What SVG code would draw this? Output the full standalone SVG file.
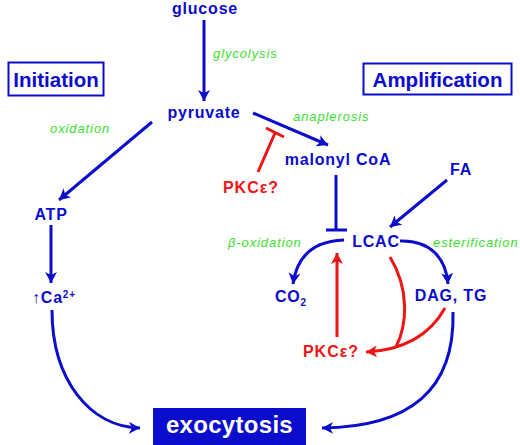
<svg xmlns="http://www.w3.org/2000/svg" width="520" height="445" viewBox="0 0 520 445">
<defs>
<style>
.n{font-family:"Liberation Sans",Arial,sans-serif;font-weight:bold;font-size:16px;letter-spacing:0.8px;fill:#0c0ccc}
.r{font-family:"Liberation Sans",Arial,sans-serif;font-weight:bold;font-size:16px;letter-spacing:1px;fill:#ee1515}
.g{font-family:"Liberation Sans",Arial,sans-serif;font-style:italic;font-size:13px;letter-spacing:0.9px;fill:#40dd30}
.h{font-family:"Liberation Sans",Arial,sans-serif;font-weight:bold;font-size:20.5px;fill:#0c0ccc}
.b{fill:none;stroke:#0c0ccc;stroke-width:3}
.rl{fill:none;stroke:#ee1515;stroke-width:3}
</style>
<marker id="ab" markerUnits="userSpaceOnUse" markerWidth="14" markerHeight="14" refX="11" refY="6" orient="auto"><path d="M0,0 L11,6 L0,12 L3,6 Z" fill="#0c0ccc"/></marker>
<marker id="ar" markerUnits="userSpaceOnUse" markerWidth="14" markerHeight="14" refX="11" refY="6" orient="auto"><path d="M0,0 L11,6 L0,12 L3,6 Z" fill="#ee1515"/></marker>
</defs>
<rect width="520" height="445" fill="#fff"/>
<g id="connectors">
<path class="b" d="M204,20 V101" marker-end="url(#ab)"/>
<path class="b" d="M152,122 L59,200" marker-end="url(#ab)"/>
<path class="b" d="M51,225 V283" marker-end="url(#ab)"/>
<path class="b" d="M52,310 C52,380 90,427 140,428" marker-end="url(#ab)"/>
<path class="b" d="M253,113 L328,145" marker-end="url(#ab)"/>
<path class="b" d="M336,175 V230 M326,230 H347"/>
<path class="b" d="M447,180 L390,227" marker-end="url(#ab)"/>
<path class="b" d="M344,240 C315,241 297,255 293,284" marker-end="url(#ab)"/>
<path class="b" d="M400,241 C430,240 446,258 448,284" marker-end="url(#ab)"/>
<path class="b" d="M453,312 C455,390 410,427 322,428" marker-end="url(#ab)"/>
<path class="rl" d="M258,172 L275,133 M266,128 L284,137"/>
<path class="rl" d="M337,337 V253" marker-end="url(#ar)"/>
<path class="rl" d="M390,257 C410,290 407,325 396,347"/>
<path class="rl" d="M445,308 C430,335 405,350 366,352" marker-end="url(#ar)"/>
</g>
<g id="glucose"><text class="n" x="205" y="14" text-anchor="middle">glucose</text></g>
<g id="glycolysis"><text class="g" x="213" y="58">glycolysis</text></g>
<g id="initiation"><rect x="8.5" y="62.5" width="95" height="33" fill="#fff" stroke="#0c0ccc" stroke-width="2"/><text class="h" x="56" y="87" text-anchor="middle">Initiation</text></g>
<g id="amplification"><rect x="363.5" y="63.5" width="148" height="31" fill="#fff" stroke="#0c0ccc" stroke-width="2"/><text class="h" x="437.5" y="87" text-anchor="middle">Amplification</text></g>
<g id="pyruvate"><text class="n" x="204" y="118" text-anchor="middle">pyruvate</text></g>
<g id="oxidation"><text class="g" x="50" y="133">oxidation</text></g>
<g id="anaplerosis"><text class="g" x="293" y="121">anaplerosis</text></g>
<g id="malonyl"><text class="n" x="338" y="165" text-anchor="middle">malonyl CoA</text></g>
<g id="pkc1"><text class="r" x="251" y="193" text-anchor="middle">PKCε?</text></g>
<g id="fa"><text class="n" x="461" y="175" text-anchor="middle" letter-spacing="2">FA</text></g>
<g id="atp"><text class="n" x="51" y="220" text-anchor="middle">ATP</text></g>
<g id="ca"><text class="n" x="32" y="303">↑Ca<tspan font-size="10" dy="-5">2+</tspan></text></g>
<g id="lcac"><text class="n" x="376" y="247" text-anchor="middle" letter-spacing="1.2">LCAC</text></g>
<g id="betaox"><text class="g" x="228" y="247">β-oxidation</text></g>
<g id="ester"><text class="g" x="433" y="247">esterification</text></g>
<g id="co2"><text class="n" x="275" y="302">CO<tspan font-size="10" dy="4">2</tspan></text></g>
<g id="dagtg"><text class="n" x="451" y="301" text-anchor="middle">DAG, TG</text></g>
<g id="pkc2"><text class="r" x="331" y="357" text-anchor="middle">PKCε?</text></g>
<g id="exocytosis"><rect x="153" y="408" width="153" height="37" fill="#0c0ccc"/><text x="229.5" y="433" text-anchor="middle" font-family="Liberation Sans, Arial, sans-serif" font-weight="bold" font-size="24" letter-spacing="0.3" fill="#fff">exocytosis</text></g>
</svg>
